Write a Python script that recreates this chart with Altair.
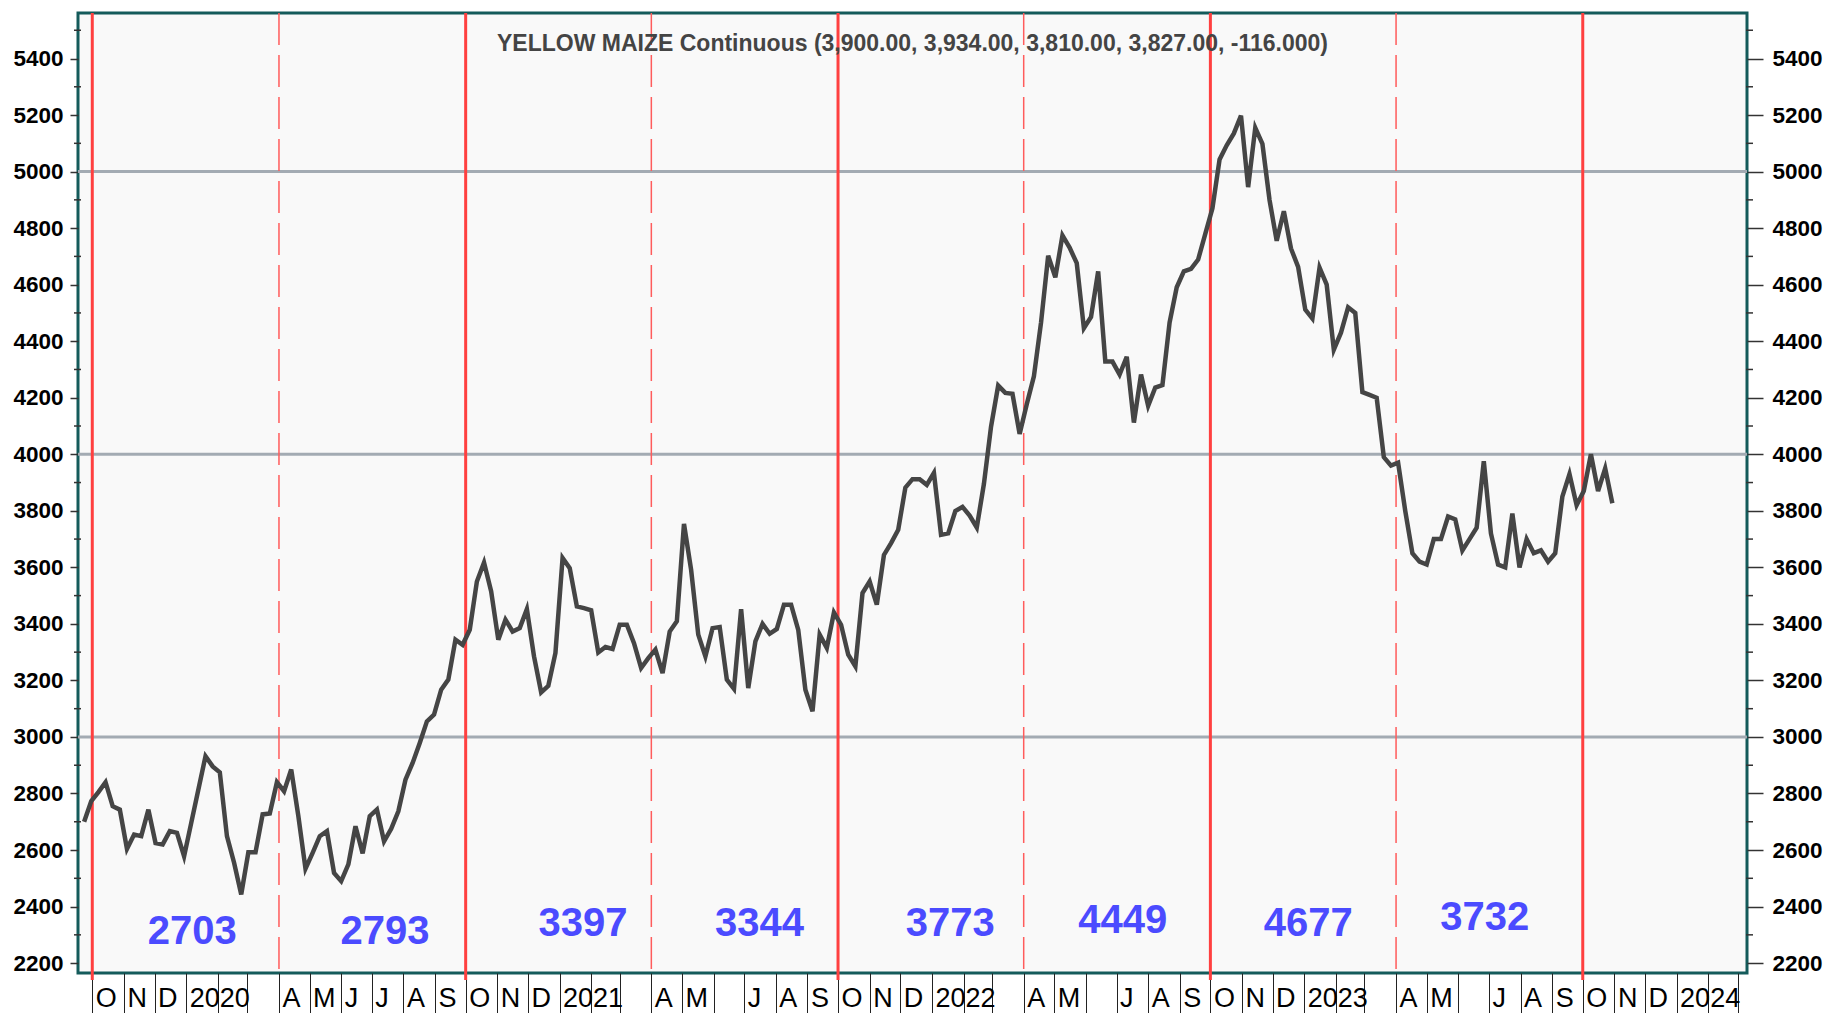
import altair as alt
import pandas as pd

# ---------------- data ----------------
start_date = "2019-09-23"   # first weekly observation
prices = [
    # Sep 2019 - Oct 2020
    2700, 2773, 2805, 2840, 2755, 2743, 2604, 2655, 2649, 2743, 2625, 2620, 2667, 2661,
    2578, 2696, 2814, 2932, 2896, 2875, 2649, 2555, 2443, 2592, 2592, 2726, 2729, 2840,
    2808, 2885, 2720, 2534, 2590, 2649, 2667, 2519, 2490, 2549, 2684, 2588, 2720, 2743,
    2631, 2675, 2737, 2849, 2908, 2979, 3055, 3079, 3167, 3203, 3344, 3326, 3379, 3550, 3617,
    # Oct 2020 - Nov 2021
    3515, 3344, 3415, 3373, 3385, 3452, 3285, 3158, 3181, 3297, 3633, 3597, 3462, 3456,
    3448, 3299, 3318, 3311, 3397, 3397, 3332, 3244, 3279, 3309, 3226, 3373, 3409, 3754,
    3591, 3362, 3285, 3385, 3389, 3203, 3170, 3452, 3173, 3338, 3400, 3365, 3382, 3468,
    3468, 3379, 3167, 3091, 3362, 3315, 3440, 3397, 3291, 3250, 3509, 3550, 3468, 3644,
    3686, 3733,
    # Dec 2021 - Dec 2022
    3882, 3912, 3912, 3892, 3934, 3715, 3720, 3799, 3814, 3783, 3741, 3895, 4098, 4243,
    4217, 4214, 4072, 4177, 4276, 4466, 4702, 4626, 4774, 4731, 4676, 4446, 4486, 4647,
    4328, 4328, 4282, 4345, 4112, 4282, 4171, 4236, 4245, 4466, 4591, 4647, 4656, 4689,
    4780, 4870, 5043, 5093, 5135, 5198, 4945, 5155, 5098, 4899, 4755, 4860, 4728, 4663, 4512,
    # Jan 2023 - Oct 2023
    4480, 4660, 4600, 4370, 4430, 4520, 4500, 4220, 4210, 4200, 3990, 3960, 3970, 3800,
    3650, 3620, 3610, 3700, 3700, 3780, 3770, 3660, 3700, 3740, 3975, 3720, 3610, 3600,
    3790, 3600, 3700, 3650, 3660, 3620, 3650, 3850, 3930, 3820, 3870, 4000, 3870, 3950, 3827,
]

season_start_dates = ["2019-10-01", "2020-10-01", "2021-10-01", "2022-10-01", "2023-10-01"]
mid_season_dates = ["2020-04-01", "2021-04-01", "2022-04-01", "2023-04-01"]

avg_labels = ["2703", "2793", "3397", "3344", "3773", "4449", "4677", "3732"]
avg_dates = ["2020-01-07", "2020-07-14", "2021-01-24", "2021-07-16",
             "2022-01-19", "2022-07-07", "2023-01-05", "2023-06-27"]
avg_levels = [2311, 2311, 2340, 2340, 2340, 2348, 2340, 2360]

grid_levels = [3000, 4000, 5000]
major_levels = list(range(2200, 5401, 200))
minor_levels = list(range(2300, 5501, 200))

title_text = "YELLOW MAIZE Continuous (3,900.00, 3,934.00, 3,810.00, 3,827.00, -116.000)"

x_domain = ["2019-09-17", "2024-03-10"]
y_domain = [2165, 5561]

# ---------------- frames ----------------
dates = pd.date_range(start_date, periods=len(prices), freq="7D")
df = pd.DataFrame({"date": dates.strftime("%Y-%m-%d"), "price": prices})
df_solid = pd.DataFrame({"date": season_start_dates})
df_dash = pd.DataFrame({"date": mid_season_dates})
df_avg = pd.DataFrame({"date": avg_dates, "price": avg_levels, "label": avg_labels})
df_grid = pd.DataFrame({"price": grid_levels})
df_minor = pd.DataFrame({"price": minor_levels})
df_title = pd.DataFrame({"t": [title_text]})

W, H = 1669, 960
FONT = "Liberation Sans, Arial, Helvetica, sans-serif"

tick_values = []
for y in range(2019, 2025):
    for m in range(1, 13):
        if (y == 2019 and m < 10) or (y == 2024 and m > 3):
            continue
        tick_values.append(alt.DateTime(year=y, month=m, date=1, utc=True))

label_expr = (
    "(utcmonth(datum.value)==1 || utcmonth(datum.value)==2 || "
    "(utcmonth(datum.value)==5 && utcyear(datum.value)>=2021)) ? '' : "
    "(utcmonth(datum.value)==0 ? utcFormat(datum.value,'%Y') : "
    "slice(utcFormat(datum.value,'%b'),0,1))"
)

xscale = alt.Scale(type="utc", domain=x_domain, nice=False)
yscale = alt.Scale(domain=y_domain, nice=False, zero=False)

xaxis = alt.Axis(
    values=tick_values, labelExpr=label_expr, labelAlign="left", labelBaseline="top",
    labelOffset=3, labelPadding=-36, tickSize=48, tickColor="#222222", tickWidth=1,
    domain=False, grid=False, title=None, labelFont=FONT, labelFontSize=27,
    labelColor="#000000", labelOverlap=False, labelBound=False, labelFlush=False,
)
X = alt.X("date:T", scale=xscale, axis=xaxis)

yaxis_left = alt.Axis(
    values=major_levels, orient="left", format="d", tickSize=8, labelPadding=7,
    domain=False, grid=False, title=None, labelFont=FONT, labelFontSize=22.5,
    labelFontWeight="bold", labelColor="#000000", tickColor="#333333", tickWidth=1.5,
    labelOverlap=False, labelFlush=False, labelBound=False,
)
yaxis_right = alt.Axis(
    values=major_levels, orient="right", format="d", tickSize=16, labelPadding=9,
    domain=False, grid=False, title=None, labelFont=FONT, labelFontSize=22.5,
    labelFontWeight="bold", labelColor="#000000", tickColor="#333333", tickWidth=1.5,
    labelOverlap=False, labelFlush=False, labelBound=False,
)
Y_left = alt.Y("price:Q", scale=yscale, axis=yaxis_left)
Y_right = alt.Y("price:Q", scale=yscale, axis=yaxis_right)
Y_none = alt.Y("price:Q", scale=yscale, axis=None)

grid = alt.Chart(df_grid).mark_rule(color="#a3abb3", strokeWidth=3).encode(y=Y_none)

solid = alt.Chart(df_solid).mark_rule(color="#ff4040", strokeWidth=3).encode(
    x=X, y=alt.value(0), y2=alt.value(H + 7)
)
dashed = alt.Chart(df_dash).mark_rule(
    color="#ff5c5c", strokeWidth=1.5, strokeDash=[32, 10]
).encode(x=X, y=alt.value(0), y2=alt.value(H))

line = alt.Chart(df).mark_line(color="#454545", strokeWidth=4.5).encode(x=X, y=Y_left)

right_axis = alt.Chart(df).mark_line(opacity=0).encode(x=X, y=Y_right)

avg_text = alt.Chart(df_avg).mark_text(
    font=FONT, fontSize=40, fontWeight="bold", color="#4b4bff", baseline="middle",
    align="center"
).encode(x=X, y=Y_none, text="label:N")

minor_left = alt.Chart(df_minor).mark_rule(color="#333333", strokeWidth=1.5).encode(
    y=Y_none, x=alt.value(-4), x2=alt.value(3)
)
minor_right = alt.Chart(df_minor).mark_rule(color="#333333", strokeWidth=1.5).encode(
    y=Y_none, x=alt.value(W - 1), x2=alt.value(W + 6)
)

title = alt.Chart(df_title).mark_text(
    font=FONT, fontSize=23, fontWeight="bold", color="#444444", baseline="middle",
    align="center"
).encode(text="t:N", x=alt.value(W / 2), y=alt.value(31))

chart = (
    alt.layer(grid, dashed, solid, line, right_axis, avg_text, minor_left, minor_right, title)
    .resolve_scale(y="shared", x="shared")
    .resolve_axis(y="independent")
    .properties(
        width=W, height=H,
        autosize=alt.AutoSizeParams(type="none"),
        padding={"left": 70, "top": 5, "right": 78, "bottom": 40},
        background="#ffffff",
    )
    .configure_view(fill="#f9f9f9", stroke="#145b5b", strokeWidth=3)
)

chart.save("out.html", embed_options={"renderer": "svg", "actions": False})
